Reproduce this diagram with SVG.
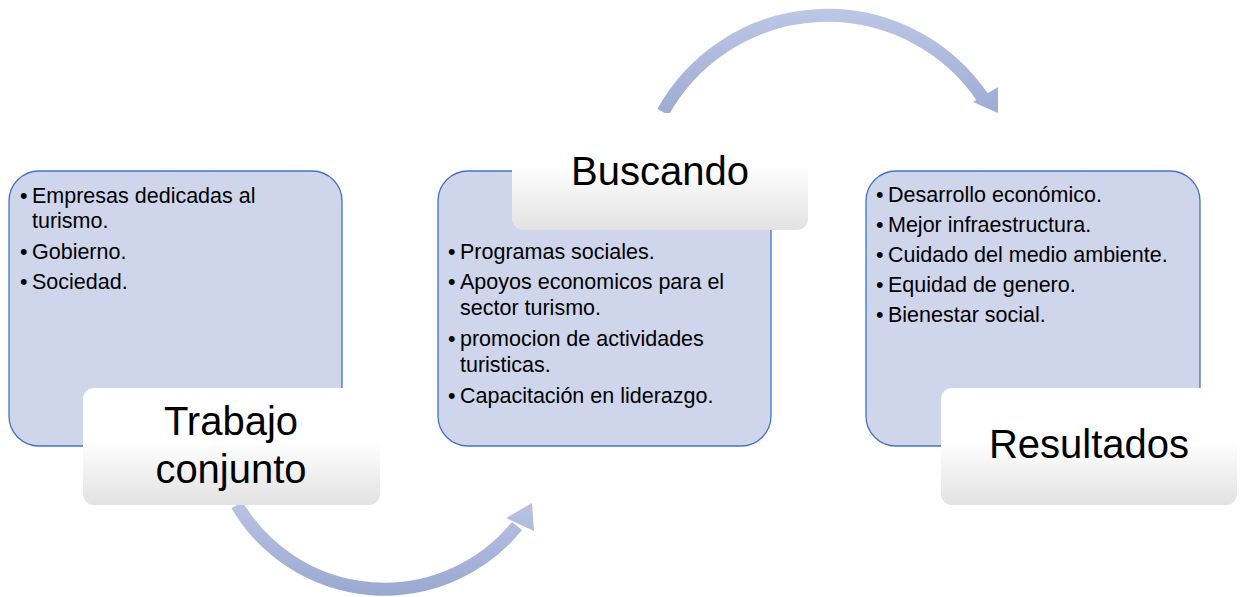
<svg xmlns="http://www.w3.org/2000/svg" width="1241" height="597" viewBox="0 0 1241 597">
<defs>
<linearGradient id="lbl" x1="0" y1="0" x2="0" y2="1">
<stop offset="0" stop-color="#ffffff"/>
<stop offset="0.45" stop-color="#ffffff"/>
<stop offset="1" stop-color="#e2e2e2"/>
</linearGradient>
<linearGradient id="arrB" gradientUnits="userSpaceOnUse" x1="0" y1="500" x2="0" y2="597">
<stop offset="0" stop-color="#b9c3e4"/>
<stop offset="1" stop-color="#9aa8d0"/>
</linearGradient>
<linearGradient id="arrT" gradientUnits="userSpaceOnUse" x1="0" y1="8" x2="0" y2="115">
<stop offset="0" stop-color="#bdc7e6"/>
<stop offset="1" stop-color="#9eacd3"/>
</linearGradient>
<style>
.box{fill:#cfd5ea;stroke:#4472c4;stroke-width:1.3}
.lbl{fill:url(#lbl)}
.t{font-family:"Liberation Sans",Arial,sans-serif;font-size:21.5px;fill:#000}
.big{font-family:"Liberation Sans",Arial,sans-serif;font-size:40px;fill:#000;text-anchor:middle}
</style>
</defs>
<g id="connectors">
<path d="M237,505 A171,171 0 0 0 517,526" fill="none" stroke="url(#arrB)" stroke-width="13"/>
<polygon points="506,518 532,503 534,531" fill="url(#arrB)"/>
<path d="M663,112 A188,188 0 0 1 983,98" fill="none" stroke="url(#arrT)" stroke-width="13"/>
<polygon points="973,102 998,87 998,113" fill="url(#arrT)"/>
</g>
<g id="node1">
<rect class="box" x="9" y="171" width="333" height="275" rx="30"/>
<text class="t" x="20" y="203">•</text>
<text class="t" x="32" y="203">Empresas dedicadas al</text>
<text class="t" x="32" y="228">turismo.</text>
<text class="t" x="20" y="259">•</text>
<text class="t" x="32" y="259">Gobierno.</text>
<text class="t" x="20" y="289">•</text>
<text class="t" x="32" y="289">Sociedad.</text>
</g>
<g id="label1">
<rect class="lbl" x="83" y="388" width="297" height="117" rx="11"/>
<text class="big" x="231" y="435">Trabajo</text>
<text class="big" x="231" y="483">conjunto</text>
</g>
<g id="node2">
<rect class="box" x="438" y="171" width="333" height="275" rx="30"/>
<text class="t" x="448" y="259">•</text>
<text class="t" x="460" y="259">Programas sociales.</text>
<text class="t" x="448" y="289">•</text>
<text class="t" x="460" y="289">Apoyos economicos para el</text>
<text class="t" x="460" y="315">sector turismo.</text>
<text class="t" x="448" y="346">•</text>
<text class="t" x="460" y="346">promocion de actividades</text>
<text class="t" x="460" y="372">turisticas.</text>
<text class="t" x="448" y="403">•</text>
<text class="t" x="460" y="403">Capacitación en liderazgo.</text>
</g>
<g id="label2">
<rect class="lbl" x="512" y="113" width="296" height="117" rx="11"/>
<text class="big" x="660" y="185">Buscando</text>
</g>
<g id="node3">
<rect class="box" x="866" y="171" width="334" height="275" rx="30"/>
<text class="t" x="876" y="202">•</text>
<text class="t" x="888" y="202">Desarrollo económico.</text>
<text class="t" x="876" y="232">•</text>
<text class="t" x="888" y="232">Mejor infraestructura.</text>
<text class="t" x="876" y="262">•</text>
<text class="t" x="888" y="262">Cuidado del medio ambiente.</text>
<text class="t" x="876" y="292">•</text>
<text class="t" x="888" y="292">Equidad de genero.</text>
<text class="t" x="876" y="322">•</text>
<text class="t" x="888" y="322">Bienestar social.</text>
</g>
<g id="label3">
<rect class="lbl" x="941" y="388" width="296" height="117" rx="11"/>
<text class="big" x="1089" y="458">Resultados</text>
</g>
</svg>
